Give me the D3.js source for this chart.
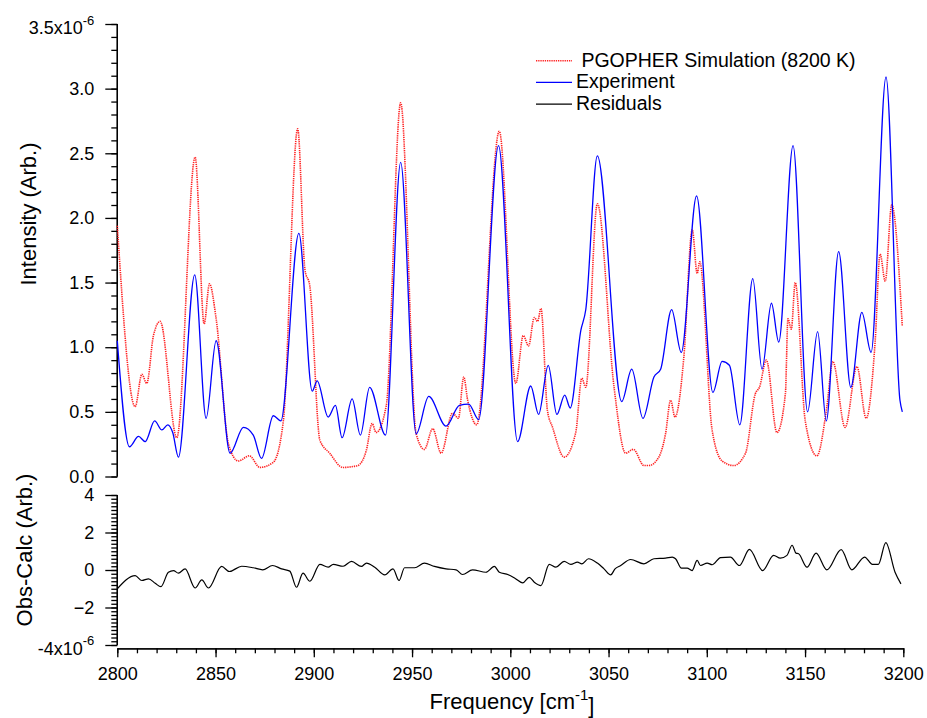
<!DOCTYPE html>
<html>
<head>
<meta charset="utf-8">
<script src="https://cdnjs.cloudflare.com/ajax/libs/d3/7.8.5/d3.min.js"></script>
<style>
    body { margin: 0; background: #fff; }
    svg { font-family: "Liberation Sans", Arial, sans-serif; }
    .axis path, .axis line { stroke: #000; stroke-width: 1.3; }
    .axis text { font-size: 18px; fill: #000; }
    .title { font-size: 22px; fill: #000; }
    .legend text { font-size: 19.5px; fill: #000; }
</style>
</head>
<body>
<div id="chart"></div>
<script>

// frequency [cm-1] / intensity [x1e-6] pairs
var simData = [[2800,1.94],[2809.1,0.54],[2812.5,0.79],[2815,0.72],[2818.4,1.09],[2821.8,1.20],[2830.3,0.30],
    [2839.6,2.47],[2844.2,1.18],[2846.9,1.49],[2850.3,1.22],[2856.6,0.25],[2861.6,0.12],[2867.2,0.16],[2872.6,0.07],
    [2879.4,0.11],[2884.5,0.43],[2891.8,2.69],[2895.5,1.60],[2898,1.47],[2903.1,0.28],[2908.1,0.18],[2914.8,0.07],
    [2922.4,0.085],[2926.7,0.20],[2929.7,0.41],[2931.7,0.34],[2936.9,0.55],[2944.2,2.89],[2952.1,0.33],[2956.3,0.21],
    [2960.5,0.37],[2964.8,0.18],[2970.6,0.49],[2973.6,0.45],[2976.3,0.77],[2978.3,0.59],[2982.9,0.40],[2994.4,2.67],
    [3002.8,0.72],[3006.6,1.09],[3009.3,1.01],[3012.2,1.23],[3013.9,1.20],[3015.6,1.30],[3018.9,0.51],[3021.5,0.38],
    [3027.4,0.15],[3033.3,0.34],[3036.4,0.76],[3038.4,0.69],[3044.3,2.11],[3052.8,0.69],[3058.7,0.18],[3062.6,0.21],
    [3068,0.085],[3070.6,0.085],[3075.6,0.15],[3079,0.33],[3081.6,0.59],[3083.8,0.46],[3088.3,0.92],[3092.6,1.91],
    [3095.1,1.57],[3096.4,1.66],[3102.7,0.36],[3107.8,0.12],[3113.7,0.085],[3119.7,0.18],[3124.7,0.64],[3126.8,0.69],
    [3130.3,0.90],[3135.7,0.34],[3140,0.64],[3141.3,1.22],[3143,1.14],[3145,1.50],[3150.1,0.43],[3156,0.16],
    [3161.1,0.54],[3164.1,0.89],[3170.4,0.38],[3176.4,0.85],[3181.1,0.45],[3185.7,1.05],[3188.2,1.72],[3190.8,1.51],
    [3194.1,2.10],[3199.5,1.16]];

var expData = [[2800,1.05],[2806.2,0.23],[2810.8,0.31],[2814.2,0.27],[2819,0.43],[2822.7,0.36],[2825.7,0.40],
    [2828.2,0.34],[2831.1,0.15],[2839.4,1.56],[2845.2,0.45],[2850.3,1.05],[2857.4,0.18],[2864.2,0.38],[2869.2,0.32],
    [2873.4,0.14],[2879.4,0.47],[2883.2,0.43],[2892.4,1.88],[2899.2,0.66],[2901.7,0.74],[2907.3,0.46],[2911,0.55],
    [2914.4,0.30],[2919.5,0.60],[2923.7,0.32],[2928.4,0.69],[2936.5,0.32],[2944.2,2.43],[2952.1,0.33],[2958.5,0.62],
    [2967.3,0.39],[2974.1,0.55],[2978.8,0.56],[2983.9,0.44],[2994,2.56],[3003.7,0.27],[3010.4,0.70],[3014.4,0.48],
    [3019.3,0.86],[3023.7,0.48],[3027.7,0.63],[3030.5,0.53],[3035.9,1.13],[3038.4,1.29],[3044.3,2.48],[3056.7,0.58],
    [3061.8,0.83],[3067.5,0.45],[3073.1,0.77],[3076.5,0.83],[3082.1,1.29],[3087,0.96],[3094.8,2.17],[3103.1,0.65],
    [3107.8,0.89],[3111.5,0.86],[3116.8,0.40],[3123.4,1.53],[3128.1,0.83],[3132.9,1.34],[3136.6,1.04],[3143.9,2.56],
    [3151.3,0.50],[3156.4,1.12],[3160.8,0.43],[3167.1,1.74],[3173.3,0.69],[3178.9,1.27],[3183.6,0.96],[3191.2,3.09],
    [3198.3,0.59],[3199.5,0.50]];

var resData = [[2800,-1.0],[2809.1,-0.30],[2812.5,-0.56],[2815.9,-0.47],[2819.3,-0.71],[2822.2,-0.89],[2826,-0.12],
    [2828.6,-0.03],[2831.1,-0.17],[2834.5,0.06],[2839.6,-0.96],[2843,-0.53],[2846.4,-0.96],[2853.1,0.19],[2857,-0.08],
    [2863.3,0.20],[2869.2,0.12],[2874,0.01],[2879,0.24],[2883.6,0.06],[2887.8,-0.06],[2891.2,-0.92],[2894.5,-0.17],
    [2898,-0.60],[2903.1,0.30],[2907.3,0.15],[2909.9,0.30],[2914.9,0.20],[2919.2,0.46],[2924.2,0.19],[2926.8,0.37],
    [2931,0.15],[2936.1,-0.26],[2940.3,0.06],[2943.4,-0.56],[2946.2,0.12],[2951.3,0.12],[2956.3,0.37],[2961.4,0.19],
    [2967.3,0.06],[2972.4,0.01],[2975.7,-0.24],[2980.8,0.01],[2987.6,-0.12],[2991.9,0.19],[2994.4,-0.12],[2999,-0.25],
    [3002.5,-0.45],[3006.3,-0.69],[3009.6,-0.39],[3012.2,-0.65],[3015.6,-0.83],[3019.8,0.30],[3023.2,0.15],[3027.4,0.46],
    [3030.8,0.30],[3034.2,0.42],[3036.4,0.33],[3039.8,0.60],[3044.3,0.37],[3047.7,0.06],[3051.1,-0.26],[3053.3,0.06],
    [3056.2,0.24],[3061.2,0.56],[3068,0.33],[3073.1,0.60],[3079,0.63],[3082.4,0.69],[3084.1,0.60],[3087.1,0.10],
    [3090,0.10],[3092.5,-0.03],[3095.1,0.51],[3096.8,0.24],[3100.2,0.37],[3102.7,0.28],[3107,0.66],[3112,0.69],
    [3116.6,0.24],[3121.7,1.10],[3128.4,-0.03],[3134,0.78],[3137.4,0.63],[3140.8,0.78],[3143.4,1.32],[3145.4,0.90],
    [3146.7,0.87],[3151,0.15],[3155.6,0.90],[3161.1,0.01],[3168.4,1.09],[3173.8,0.01],[3180.3,0.69],[3184.3,0.30],
    [3187.3,0.30],[3191.1,1.46],[3195.8,-0.12],[3198.8,-0.74]];

// axis ticks
var xMajor = d3.range(2800, 3201, 50);
var xMinor = d3.range(2800, 3201, 10);
var yTopMajor = [0, 0.5, 1.0, 1.5, 2.0, 2.5, 3.0, 3.5];
var yTopMinor = d3.range(0, 36).map(function(i) { return i / 10; });
var yBotMajor = [-4, -2, 0, 2, 4];
var yBotMinor = d3.range(-20, 21).map(function(i) { return i / 5; });

var legendItems = [
    { label: "\u00a0PGOPHER Simulation (8200 K)", cls: "sim" },
    { label: "Experiment", cls: "exp" },
    { label: "Residuals", cls: "res" }
];

var width = 927, height = 718;

var svg = d3.select("#chart").append("svg")
    .attr("width", width)
    .attr("height", height);

// scales
var x = d3.scaleLinear().domain([2800, 3200]).range([117.3, 903.3]);
var yTop = d3.scaleLinear().domain([0, 3.5]).range([476.5, 24]);
var yBot = d3.scaleLinear().domain([-4, 4]).range([645, 495]);

var styles = {
    sim: { stroke: "#ff2222", width: 1.6, dash: "1.3,0.9" },
    exp: { stroke: "#0000ff", width: 1.3, dash: null },
    res: { stroke: "#000000", width: 1.2, dash: null }
};

// write "a x10^-6" into the end label of an axis
function addExponent(sel, base, dy) {
    sel.text("").attr("dy", dy);
    sel.append("tspan").text(base);
    sel.append("tspan").attr("dy", "-0.75em").style("font-size", "13px").text("-6");
}

// --- top panel y axis
var gTop = svg.append("g").attr("class", "axis")
    .attr("transform", "translate(" + x.range()[0] + ",0)");

gTop.call(d3.axisLeft(yTop).tickValues(yTopMinor).tickSize(6).tickSizeOuter(0).tickFormat(""));
var gTopMajor = gTop.append("g").call(d3.axisLeft(yTop).tickValues(yTopMajor).tickSize(12).tickSizeOuter(0)
    .tickPadding(11).tickFormat(d3.format(".1f")));
gTop.selectAll(".domain").attr("d", "M0," + yTop(3.5) + "V" + yTop(0));

gTopMajor.selectAll(".tick text").filter(function(d) { return d === 3.5; })
    .call(addExponent, "3.5x10", "0.55em");

// --- bottom panel y axis
var gBot = svg.append("g").attr("class", "axis")
    .attr("transform", "translate(" + x.range()[0] + ",0)");

gBot.call(d3.axisLeft(yBot).tickValues(yBotMinor).tickSize(6).tickSizeOuter(0).tickFormat(""));
var gBotMajor = gBot.append("g").call(d3.axisLeft(yBot).tickValues(yBotMajor).tickSize(12).tickSizeOuter(0)
    .tickPadding(11).tickFormat(d3.format("d")));
gBot.selectAll(".domain").attr("d", "M0," + yBot(4) + "V" + yBot(-4));

gBotMajor.selectAll(".tick text").filter(function(d) { return d === -4; })
    .call(addExponent, "-4x10", "0.5em");

// --- x axis
var xAxisY = 648.3;
var gx = svg.append("g").attr("class", "axis")
    .attr("transform", "translate(0," + xAxisY + ")");

gx.call(d3.axisBottom(x).tickValues(xMinor).tickSize(5).tickSizeOuter(0).tickFormat(""));
gx.append("g").call(d3.axisBottom(x).tickValues(xMajor).tickSize(9).tickSizeOuter(0)
    .tickPadding(10).tickFormat(d3.format("d")));

// --- curves
var line = function(yScale) {
    return d3.line()
        .x(function(d) { return x(d[0]); })
        .y(function(d) { return yScale(d[1]); })
        .curve(d3.curveMonotoneX);
};

function drawSeries(data, yScale, s) {
    svg.append("path")
        .datum(data)
        .attr("fill", "none")
        .attr("stroke", s.stroke)
        .attr("stroke-width", s.width)
        .attr("stroke-dasharray", s.dash)
        .attr("stroke-linejoin", "round")
        .attr("d", line(yScale));
}

drawSeries(simData, yTop, styles.sim);
drawSeries(expData, yTop, styles.exp);
drawSeries(resData, yBot, styles.res);

// --- legend
var legend = svg.append("g").attr("class", "legend");

legendItems.forEach(function(item, i) {
    var s = styles[item.cls];
    var ly = 60.7 + i * 21.7;
    legend.append("line")
        .attr("x1", 536).attr("x2", 572)
        .attr("y1", ly).attr("y2", ly)
        .attr("stroke", s.stroke)
        .attr("stroke-width", s.width)
        .attr("stroke-dasharray", s.dash);
    legend.append("text")
        .attr("x", 576)
        .attr("y", ly + 6)
        .text(item.label);
});

// --- axis titles
svg.append("text")
    .attr("class", "title")
    .attr("transform", "translate(36,214) rotate(-90)")
    .attr("text-anchor", "middle")
    .text("Intensity (Arb.)");

svg.append("text")
    .attr("class", "title")
    .attr("transform", "translate(32,550) rotate(-90)")
    .attr("text-anchor", "middle")
    .text("Obs-Calc (Arb.)");

var xTitle = svg.append("text")
    .attr("class", "title")
    .attr("x", 512)
    .attr("y", 709)
    .attr("text-anchor", "middle");
xTitle.append("tspan").text("Frequency [cm");
xTitle.append("tspan").attr("dy", "-0.6em").style("font-size", "15px").text("-1");
xTitle.append("tspan").attr("dy", "0.6em").text("]");

</script>
</body>
</html>
